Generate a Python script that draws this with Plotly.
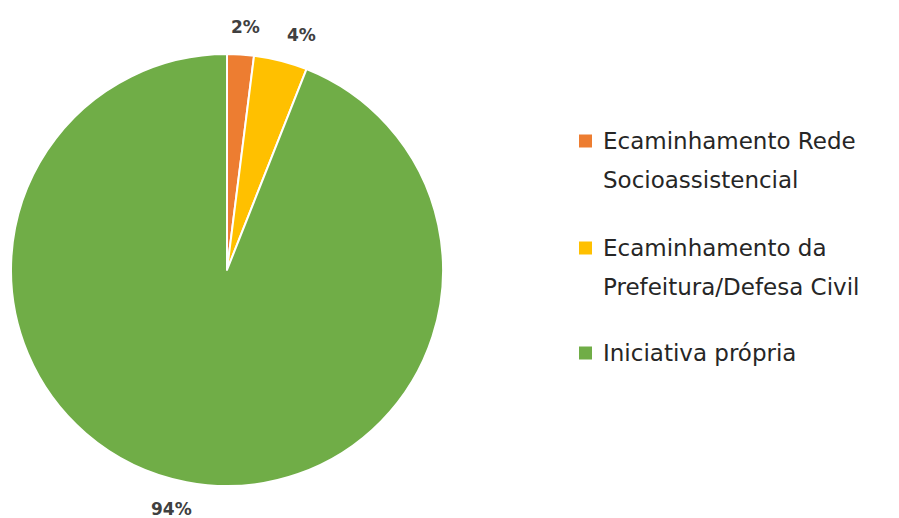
import math
import plotly.graph_objects as go

# Share of people by how they arrived
categories = [
    "Ecaminhamento Rede Socioassistencial",
    "Ecaminhamento da Prefeitura/Defesa Civil",
    "Iniciativa própria",
]
legend_lines = [
    ["Ecaminhamento Rede", "Socioassistencial"],
    ["Ecaminhamento da", "Prefeitura/Defesa Civil"],
    ["Iniciativa própria"],
]
values = [2, 4, 94]
colors = ["#ED7D31", "#FFC000", "#70AD47"]

W, H = 899, 518

# Pie box in pixels (left, right, top, bottom)
PIE_L, PIE_R, PIE_T, PIE_B = 11, 443, 54, 486
cx, cy = (PIE_L + PIE_R) / 2, (PIE_T + PIE_B) / 2
radius = (PIE_R - PIE_L) / 2

fig = go.Figure()
fig.add_trace(go.Pie(
    labels=categories,
    values=values,
    sort=False,
    direction="clockwise",
    rotation=0,
    marker=dict(colors=colors, line=dict(color="white", width=2)),
    textinfo="none",
    domain=dict(x=[PIE_L / W, PIE_R / W], y=[1 - PIE_B / H, 1 - PIE_T / H]),
    showlegend=False,
    hoverinfo="label+percent",
))

# Percentage labels just outside each slice, at the slice's mid-angle
total = sum(values)
cum = 0
label_r = radius + 27
for v in values:
    mid = 2 * math.pi * (cum + v / 2) / total
    cum += v
    s, c = math.sin(mid), math.cos(mid)
    px = cx + label_r * s + 55 * s
    py = cy - label_r * c
    fig.add_annotation(
        x=px / W, y=1 - py / H, xref="paper", yref="paper",
        xanchor="center", yanchor="middle", borderpad=0,
        text=f"{round(100 * v / total)}%", showarrow=False,
        font=dict(family="DejaVu Sans", size=17, color="#404040", weight="bold"),
    )

# Legend drawn beside the pie: colour square plus wrapped label lines
item_y = [141, 248, 353]
line_pitch = 39
for lines, color, y0 in zip(legend_lines, colors, item_y):
    fig.add_shape(
        type="rect", xref="paper", yref="paper",
        x0=579 / W, x1=592 / W,
        y0=1 - (y0 + 6.5) / H, y1=1 - (y0 - 6.5) / H,
        fillcolor=color, line=dict(width=0),
    )
    for i, txt in enumerate(lines):
        fig.add_annotation(
            x=601 / W, y=1 - (y0 + i * line_pitch) / H,
            xref="paper", yref="paper",
            xanchor="left", yanchor="middle",
            text=txt, showarrow=False,
            font=dict(family="DejaVu Sans", size=23, color="#262626"),
        )

fig.update_layout(
    width=W, height=H,
    margin=dict(l=0, r=0, t=0, b=0),
    paper_bgcolor="white",
    plot_bgcolor="white",
)

fig.write_html("out.html")
